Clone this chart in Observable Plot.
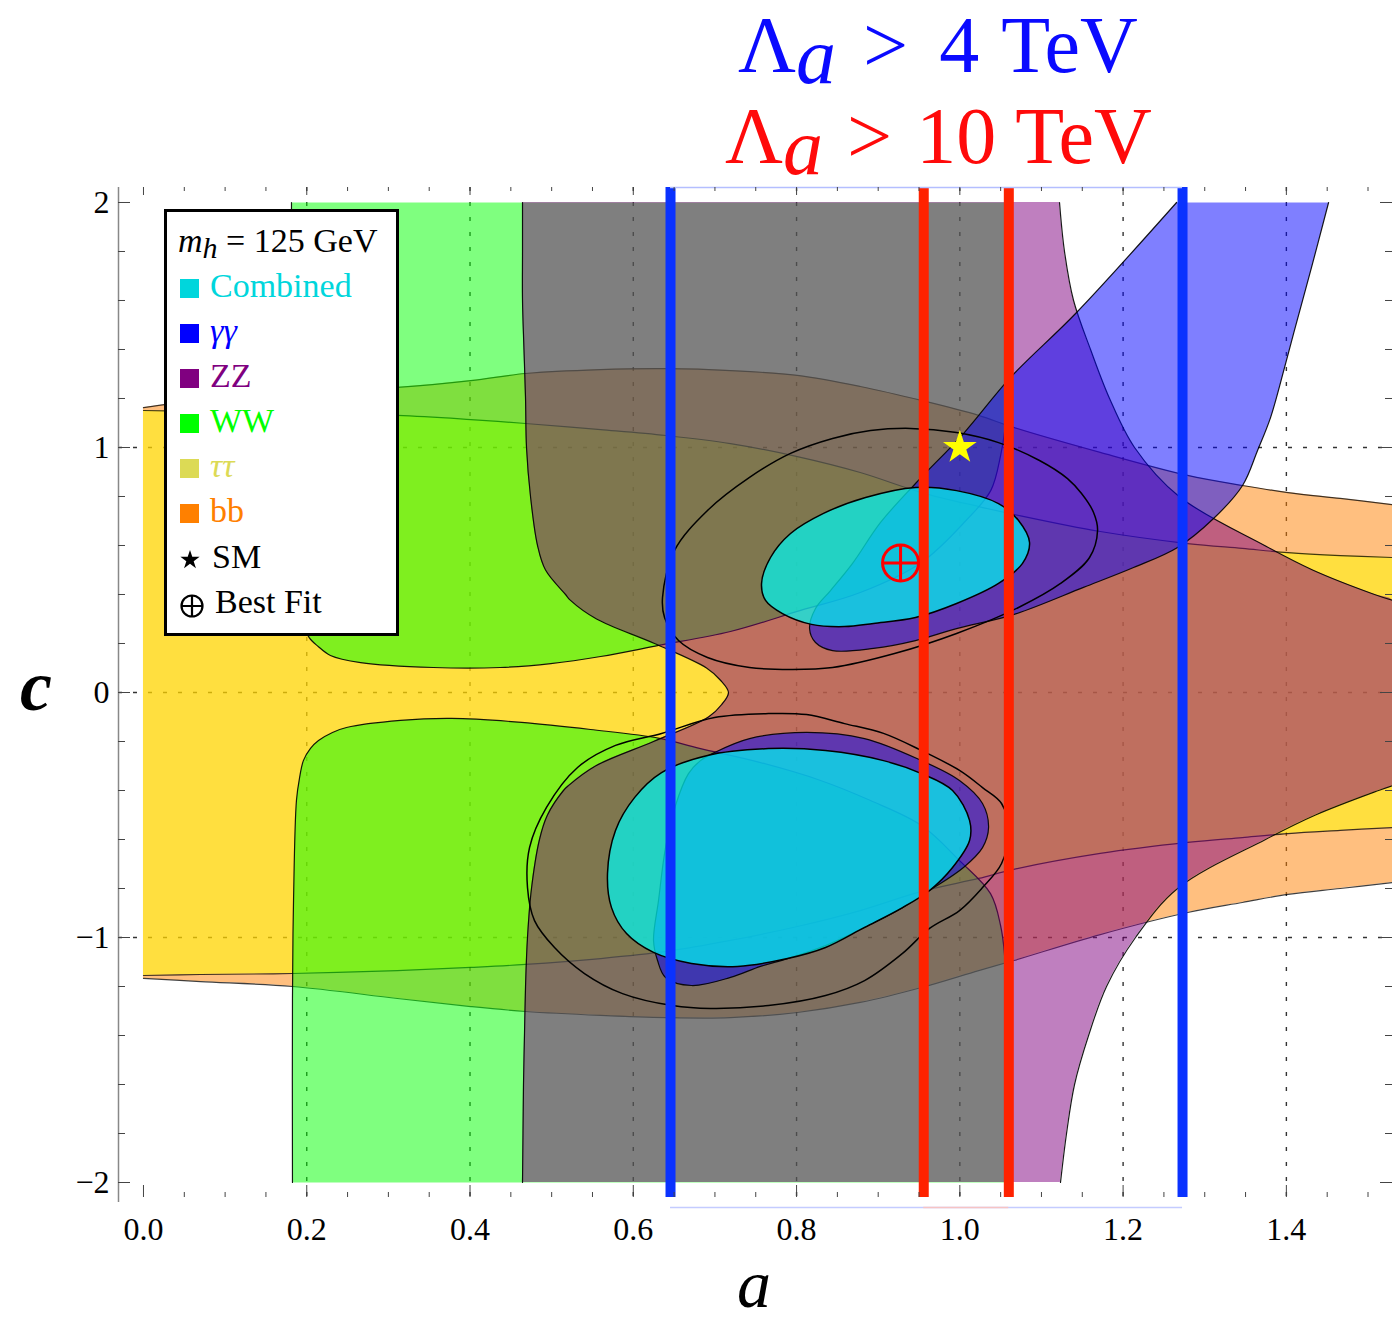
<!DOCTYPE html>
<html>
<head>
<meta charset="utf-8">
<title>Higgs couplings in the (a, c) plane</title>
<script src="https://cdn.jsdelivr.net/npm/d3@7"></script>
<script src="https://cdn.jsdelivr.net/npm/@observablehq/plot@0.6"></script>
<style>
  html, body { margin: 0; padding: 0; background: #fff; }
  #page { position: relative; width: 1394px; height: 1322px; overflow: hidden;
          font-family: "Liberation Serif", "Times New Roman", serif; }
  .ov { position: absolute; white-space: nowrap; line-height: 1; font-family: "Liberation Serif", "Times New Roman", serif; }
  .legend-box { position: absolute; box-sizing: border-box; background: #fff; border: 3.5px solid #000; }
  .sw { position: absolute; width: 19px; height: 19px; }
</style>
</head>
<body>
<div id="page"></div>
<script>
// ---------- axes ----------
const X_DOMAIN = [-0.0306, 1.5300];
const Y_DOMAIN = [-2.0612, 2.0612];
const aLabelTicks = [0, 0.2, 0.4, 0.6, 0.8, 1.0, 1.2, 1.4];
const aMinorTicks = [0.05, 0.1, 0.15, 0.25, 0.3, 0.35, 0.45, 0.5, 0.55, 0.65, 0.7, 0.75,
                     0.85, 0.9, 0.95, 1.05, 1.1, 1.15, 1.25, 1.3, 1.35, 1.45, 1.5];
const cLabelTicks = [-2, -1, 0, 1, 2];
const cMinorTicks = [-1.8, -1.6, -1.4, -1.2, -0.8, -0.6, -0.4, -0.2, 0.2, 0.4, 0.6, 0.8, 1.2, 1.4, 1.6, 1.8];
const gridA = [0.2, 0.4, 0.6, 0.8, 1.0, 1.2, 1.4];
const gridC = [-1, 0, 1];

// ---------- allowed regions ----------
// bb band: [a, upper c, lower c]
const bbBand = [
  [0.000, 1.163, -1.167], [0.070, 1.192, -1.180], [0.1825, 1.224, -1.200], [0.311, 1.245, -1.249],
  [0.401, 1.273, -1.282], [0.468, 1.302, -1.302], [0.560, 1.318, -1.318], [0.640, 1.322, -1.327],
  [0.719, 1.314, -1.327], [0.801, 1.294, -1.306], [0.878, 1.249, -1.265], [0.953, 1.192, -1.204],
  [1.023, 1.131, -1.135], [1.066, 1.082, -1.094], [1.172, 0.980, -0.988], [1.279, 0.886, -0.898],
  [1.346, 0.845, -0.857], [1.402, 0.816, -0.824], [1.466, 0.792, -0.800], [1.530, 0.767, -0.776]
];
// tau tau band: [a, upper c, lower c]
const tautauBand = [
  [0.000, 1.151, -1.155], [0.070, 1.147, -1.151], [0.1825, 1.139, -1.147], [0.311, 1.131, -1.135],
  [0.401, 1.114, -1.122], [0.468, 1.098, -1.110], [0.560, 1.073, -1.086], [0.640, 1.049, -1.057],
  [0.719, 1.016, -1.012], [0.801, 0.963, -0.955], [0.878, 0.898, -0.890], [0.953, 0.816, -0.812],
  [1.023, 0.759, -0.759], [1.066, 0.727, -0.722], [1.172, 0.657, -0.657], [1.279, 0.608, -0.612],
  [1.346, 0.588, -0.592], [1.402, 0.571, -0.576], [1.466, 0.559, -0.563], [1.530, 0.551, -0.551]
];
// WW: two lobes, [a, c]
const wwUpperLobe = [
  [1.057, 2.0], [1.057, 1.6], [1.057, 1.2], [1.055, 1.07], [1.050, 0.968], [1.038, 0.825],
  [1.007, 0.700], [0.953, 0.531], [0.878, 0.408], [0.805, 0.335], [0.719, 0.249], [0.631, 0.192],
  [0.560, 0.147], [0.499, 0.118], [0.437, 0.102], [0.355, 0.102], [0.266, 0.122], [0.229, 0.151],
  [0.214, 0.188], [0.203, 0.224], [0.195, 0.286], [0.187, 0.376], [0.1825, 0.53], [0.1825, 1.0],
  [0.1813, 1.6], [0.1813, 2.0]
];
const wwLowerLobe = [
  [0.1825, -2.0], [0.1825, -1.25], [0.1838, -0.85], [0.1874, -0.44], [0.1911, -0.35], [0.196, -0.277],
  [0.2046, -0.228], [0.2144, -0.196], [0.2315, -0.163], [0.2487, -0.143], [0.3148, -0.114],
  [0.3773, -0.106], [0.4631, -0.122], [0.5476, -0.151], [0.6321, -0.187], [0.6811, -0.228],
  [0.7558, -0.286], [0.8294, -0.359], [0.8906, -0.441], [0.9531, -0.543], [0.9996, -0.686],
  [1.0376, -0.821], [1.0499, -0.951], [1.0548, -1.073], [1.056, -1.25], [1.057, -1.66], [1.057, -2.0]
];
// ZZ band: [c, left a, right a]
const zzBand = [
  [2.0, 0.4643, 1.1221], [1.8, 0.4643, 1.1282], [1.6, 0.4643, 1.1393], [1.4, 0.4661, 1.1601],
  [1.2, 0.4680, 1.1834], [1.0, 0.4692, 1.2140], [0.8, 0.4741, 1.2686], [0.6, 0.4827, 1.3733],
  [0.5, 0.4925, 1.4321], [0.4, 0.5170, 1.5080], [0.376, 0.5231, 1.530], [0.3, 0.5550, 1.530],
  [0.2, 0.6260, 1.530], [0.1, 0.6897, 1.530], [0.05, 0.7068, 1.530], [0.0, 0.7166, 1.530],
  [-0.05, 0.7081, 1.530], [-0.1, 0.6921, 1.530], [-0.2, 0.6248, 1.530], [-0.3, 0.5537, 1.530],
  [-0.38, 0.5206, 1.530], [-0.4, 0.5145, 1.5129], [-0.5, 0.4949, 1.4357], [-0.6, 0.4851, 1.3745],
  [-0.8, 0.4753, 1.2667], [-1.0, 0.4704, 1.2152], [-1.2, 0.4680, 1.1797], [-1.4, 0.4667, 1.1577],
  [-1.6, 0.4655, 1.1405], [-1.8, 0.4649, 1.1307], [-2.0, 0.4643, 1.1233]
];
// gamma gamma: upper band and lower blob, [a, c]
const gagaUpper = [
  [1.2655, 2.0], [1.1430, 1.551], [1.0621, 1.286], [1.0045, 1.057], [0.9457, 0.853], [0.9029, 0.694],
  [0.8686, 0.527], [0.8416, 0.416], [0.8232, 0.343], [0.8159, 0.261], [0.8232, 0.204], [0.8441, 0.171],
  [0.8943, 0.180], [0.9457, 0.212], [0.9960, 0.261], [1.0658, 0.318], [1.1515, 0.429], [1.2128, 0.510],
  [1.2667, 0.592], [1.3108, 0.710], [1.3463, 0.845], [1.3647, 0.988], [1.3806, 1.122], [1.3978, 1.327],
  [1.4088, 1.465], [1.4308, 1.735], [1.4517, 2.0]
];
const gagaLower = [
  [0.6995, -0.245], [0.7424, -0.188], [0.8122, -0.163], [0.8833, -0.188], [0.9531, -0.278],
  [0.9996, -0.359], [1.0278, -0.453], [1.0352, -0.551], [1.0278, -0.633], [1.0045, -0.714],
  [0.9629, -0.808], [0.9298, -0.878], [0.8833, -0.959], [0.8355, -1.033], [0.7889, -1.086],
  [0.7558, -1.118], [0.7191, -1.163], [0.6713, -1.196], [0.6395, -1.163], [0.6297, -1.094],
  [0.6248, -1.012], [0.6309, -0.849], [0.6395, -0.633], [0.6517, -0.461], [0.6676, -0.331],
  [0.6823, -0.278]
];
// combined fit: filled 1-sigma islands and 2-sigma contours, [a, c]
const combinedUpper = [
  [0.7571, 0.445], [0.7681, 0.551], [0.7926, 0.649], [0.8330, 0.731], [0.8845, 0.796], [0.9457, 0.837],
  [0.9960, 0.824], [1.0474, 0.771], [1.0719, 0.702], [1.0854, 0.612], [1.0768, 0.527], [1.0474, 0.445],
  [0.9960, 0.363], [0.9457, 0.306], [0.8943, 0.282], [0.8588, 0.269], [0.8183, 0.278], [0.7828, 0.322],
  [0.7620, 0.376]
];
const combinedLower = [
  [0.5684, -0.739], [0.5782, -0.563], [0.6015, -0.429], [0.6346, -0.327], [0.6909, -0.257],
  [0.7656, -0.229], [0.8355, -0.237], [0.9065, -0.278], [0.9531, -0.331], [0.9911, -0.400],
  [1.0119, -0.522], [1.0119, -0.604], [0.9911, -0.714], [0.9629, -0.808], [0.9298, -0.878],
  [0.8833, -0.959], [0.8355, -1.041], [0.7889, -1.086], [0.7277, -1.118], [0.6713, -1.106],
  [0.6248, -1.061], [0.5917, -0.984], [0.5733, -0.878]
];
const contourUpper = [
  [0.6358, 0.388], [0.6505, 0.580], [0.6909, 0.743], [0.7424, 0.878], [0.7926, 0.976], [0.8441, 1.037],
  [0.8906, 1.069], [0.9396, 1.078], [0.9960, 1.061], [1.0474, 1.020], [1.0976, 0.947], [1.1319, 0.873],
  [1.1491, 0.812], [1.1638, 0.735], [1.1687, 0.661], [1.1589, 0.551], [1.1234, 0.445], [1.0719, 0.347],
  [0.9960, 0.241], [0.9200, 0.159], [0.8441, 0.102], [0.7926, 0.094], [0.7424, 0.102], [0.6909, 0.143],
  [0.6554, 0.212], [0.6383, 0.306]
];
const contourLower = [
  [0.6346, -0.167], [0.6995, -0.102], [0.7656, -0.086], [0.8122, -0.090], [0.8588, -0.127],
  [0.9065, -0.167], [0.9531, -0.237], [0.9996, -0.318], [1.0278, -0.388], [1.0511, -0.453],
  [1.0597, -0.563], [1.0511, -0.698], [1.0278, -0.796], [0.9996, -0.890], [0.9629, -0.963],
  [0.9298, -1.065], [0.8833, -1.176], [0.8355, -1.237], [0.7656, -1.278], [0.6946, -1.290],
  [0.6480, -1.278], [0.5868, -1.229], [0.5402, -1.147], [0.5035, -1.041], [0.4790, -0.931],
  [0.4704, -0.796], [0.4729, -0.633], [0.4937, -0.469], [0.5317, -0.306], [0.5782, -0.216]
];
// reference points and cut-off lines
const smPoint = [[1.0, 1.0]];
const bestFitPoint = [[0.9274, 0.5286]];
const lambda4TeV = [0.6456, 1.2728];
const lambda10TeV = [0.9558, 1.0600];

// ---------- drawing ----------
const W = 1394, H = 1322;
const M = {top: 187, right: 2, bottom: 125, left: 118};
const FW = W - M.left - M.right;
const FH = H - M.top - M.bottom;
const curve = "catmull-rom";
const P = {x: d => d[0], y: d => d[1]};
const edge = {stroke: "#000", strokeWidth: 1.2, strokeOpacity: 0.75, curve, clip: true};
const tickStyle = {stroke: "#444", strokeWidth: 1};

// circle with a plus, used for the best-fit marker
const circlePlus = {
  draw(ctx, size) {
    const r = Math.sqrt(size / Math.PI);
    ctx.moveTo(r, 0); ctx.arc(0, 0, r, 0, 2 * Math.PI);
    ctx.moveTo(-r, 0); ctx.lineTo(r, 0);
    ctx.moveTo(0, -r); ctx.lineTo(0, r);
  }
};

const chart = Plot.plot({
  width: W, height: H,
  marginTop: M.top, marginRight: M.right, marginBottom: M.bottom, marginLeft: M.left,
  x: {domain: X_DOMAIN, label: null},
  y: {domain: Y_DOMAIN, label: null},
  style: {background: "#fff", fontFamily: "'Liberation Serif', 'Times New Roman', serif", fontSize: "32px", color: "#000", overflow: "visible"},
  marks: [
    // dotted grid
    Plot.ruleX(gridA, {stroke: "#000", strokeOpacity: 0.8, strokeWidth: 1.4, strokeDasharray: "4,11"}),
    Plot.ruleY(gridC, {stroke: "#000", strokeOpacity: 0.8, strokeWidth: 1.4, strokeDasharray: "4,11"}),

    // bb
    Plot.areaY(bbBand, {x: d => d[0], y1: d => d[2], y2: d => d[1], fill: "#FF8000", fillOpacity: 0.5, curve, clip: true}),
    Plot.line(bbBand, {x: d => d[0], y: d => d[1], ...edge}),
    Plot.line(bbBand, {x: d => d[0], y: d => d[2], ...edge}),
    // tau tau
    Plot.areaY(tautauBand, {x: d => d[0], y1: d => d[2], y2: d => d[1], fill: "#FFFF00", fillOpacity: 0.5, curve, clip: true}),
    Plot.line(tautauBand, {x: d => d[0], y: d => d[1], ...edge}),
    Plot.line(tautauBand, {x: d => d[0], y: d => d[2], ...edge}),
    // WW
    Plot.line(wwUpperLobe, {...P, fill: "#00FF00", fillOpacity: 0.5, stroke: "none", curve, clip: true}),
    Plot.line(wwLowerLobe, {...P, fill: "#00FF00", fillOpacity: 0.5, stroke: "none", curve, clip: true}),
    Plot.line(wwUpperLobe, {...P, ...edge, strokeOpacity: 0.9}),
    Plot.line(wwLowerLobe, {...P, ...edge, strokeOpacity: 0.9}),
    // ZZ
    Plot.areaX(zzBand, {y: d => d[0], x1: d => d[1], x2: d => d[2], fill: "#800080", fillOpacity: 0.5, curve, clip: true}),
    Plot.line(zzBand, {x: d => d[1], y: d => d[0], ...edge, strokeOpacity: 0.9}),
    Plot.line(zzBand.filter(d => d[0] >= 0.376), {x: d => d[2], y: d => d[0], ...edge, strokeOpacity: 0.9}),
    Plot.line(zzBand.filter(d => d[0] <= -0.38), {x: d => d[2], y: d => d[0], ...edge, strokeOpacity: 0.9}),
    // gamma gamma
    Plot.line(gagaUpper, {...P, fill: "#0000FF", fillOpacity: 0.5, stroke: "none", curve, clip: true}),
    Plot.line(gagaUpper, {...P, ...edge, strokeOpacity: 0.9}),
    Plot.line(gagaLower, {...P, fill: "#0000FF", fillOpacity: 0.5, stroke: "#000", strokeWidth: 1.2, strokeOpacity: 0.9, curve: "catmull-rom-closed", clip: true}),
    // combined 2-sigma contours
    Plot.line(contourUpper, {...P, stroke: "#000", strokeWidth: 1.5, curve: "catmull-rom-closed", clip: true}),
    Plot.line(contourLower, {...P, stroke: "#000", strokeWidth: 1.5, curve: "catmull-rom-closed", clip: true}),
    // combined 1-sigma islands
    Plot.line(combinedUpper, {...P, fill: "#00F5F0", fillOpacity: 0.72, stroke: "#000", strokeWidth: 1.5, curve: "catmull-rom-closed", clip: true}),
    Plot.line(combinedLower, {...P, fill: "#00F5F0", fillOpacity: 0.72, stroke: "#000", strokeWidth: 1.5, curve: "catmull-rom-closed", clip: true}),

    // cut-off scale lines
    Plot.ruleX(lambda4TeV, {stroke: "#0A32FF", strokeWidth: 10}),
    Plot.ruleX(lambda10TeV, {stroke: "#FF2200", strokeWidth: 10}),
    Plot.ruleY([Y_DOMAIN[1]], {x1: lambda4TeV[0], x2: lambda4TeV[1], stroke: "#b4beff", strokeWidth: 1.5}),
    Plot.ruleY([Y_DOMAIN[0]], {x1: lambda4TeV[0], x2: lambda4TeV[1], stroke: "#c4ccff", strokeWidth: 1.5, dy: 10}),
    Plot.ruleY([Y_DOMAIN[0]], {x1: lambda10TeV[0], x2: lambda10TeV[1], stroke: "#f6c4c4", strokeWidth: 1.5, dy: 10}),

    // SM point and best fit
    Plot.dot(smPoint, {...P, symbol: "star", r: 10.6, fill: "#FFFF00", stroke: "none"}),
    Plot.dot(bestFitPoint, {...P, symbol: circlePlus, r: 18, fill: "none", stroke: "#FF0000", strokeWidth: 3}),

    // frame line and inward ticks
    Plot.ruleX([X_DOMAIN[0]], {stroke: "#888", strokeWidth: 1.5, insetBottom: -5}),
    Plot.tickX(aLabelTicks, {x: d => d, insetBottom: FH - 8, ...tickStyle}),
    Plot.tickX(aMinorTicks, {x: d => d, insetBottom: FH - 4, ...tickStyle}),
    Plot.tickX(aLabelTicks, {x: d => d, insetTop: FH - 12, ...tickStyle}),
    Plot.tickX(aMinorTicks, {x: d => d, insetTop: FH - 5, ...tickStyle}),
    Plot.tickY(cLabelTicks, {y: d => d, insetRight: FW - 12, ...tickStyle}),
    Plot.tickY(cMinorTicks, {y: d => d, insetRight: FW - 7, ...tickStyle}),
    Plot.tickY(cLabelTicks, {y: d => d, insetLeft: FW - 12, ...tickStyle}),
    Plot.tickY(cMinorTicks, {y: d => d, insetLeft: FW - 7, ...tickStyle}),

    // tick labels
    Plot.axisX({ticks: aLabelTicks, anchor: "bottom", tickSize: 0, tickPadding: 20, tickFormat: d3.format(".1f"), label: null}),
    Plot.axisY({ticks: cLabelTicks, anchor: "left", tickSize: 0, tickPadding: 9, tickFormat: d3.format("d"), label: null})
  ]
});

const page = document.getElementById("page");
page.appendChild(chart);

// ---------- text overlays ----------
const BLUE = "#0A0AFF", RED = "#FF0A0A";
function put(html, left, baseline, size, style = {}) {
  const el = document.createElement("div");
  el.className = "ov";
  el.innerHTML = html;
  el.style.left = left + "px";
  el.style.top = (baseline - 0.8375 * size) + "px";
  el.style.fontSize = size + "px";
  Object.assign(el.style, style);
  page.appendChild(el);
  return el;
}
function heading(gaps, number) {
  return `Λ<span style="font-style:italic;position:relative;top:11px;margin-left:${gaps[0]}px">a</span>` +
         `<span style="margin-left:${gaps[1]}px">&gt;</span>` +
         `<span style="margin-left:${gaps[2]}px">${number}</span>` +
         `<span style="margin-left:${gaps[3]}px">TeV</span>`;
}

// cut-off headings
put(heading([0, 27, 31, 22], "4"), 738, 71.5, 80, {color: BLUE});
put(heading([0, 24, 24, 19], "10"), 725, 163, 80, {color: RED});

// axis titles
put('<span style="font-style:italic">a</span>', 737, 1307, 68);
put('<span style="font-style:italic;font-weight:bold">c</span>', 20, 710, 72);

// legend
const legendEntries = [
  {label: "Combined", color: "#00D6DC", italic: false},
  {label: "γγ", color: "#0000FF", italic: true},
  {label: "ZZ", color: "#800080", italic: false},
  {label: "WW", color: "#00FF00", italic: false},
  {label: "ττ", color: "#DCDA55", italic: true},
  {label: "bb", color: "#FF8000", italic: false}
];
const box = document.createElement("div");
box.className = "legend-box";
Object.assign(box.style, {left: "163.5px", top: "209px", width: "235.5px", height: "427px"});
page.appendChild(box);

put('<span style="font-style:italic">m</span><span style="position:relative;top:6px;font-size:30px;font-style:italic">h</span> = 125 GeV', 178, 252, 34);
legendEntries.forEach((e, i) => {
  const baseline = 297 + i * 45;
  const sw = document.createElement("div");
  sw.className = "sw";
  Object.assign(sw.style, {left: "180px", top: (baseline - 18) + "px", background: e.color});
  page.appendChild(sw);
  put(e.italic ? `<span style="font-style:italic">${e.label}</span>` : e.label, 210, baseline, 34, {color: e.color});
});
const starPath = d3.symbol(d3.symbolStar, 115)();
const starIcon = document.createElement("div");
starIcon.className = "ov";
starIcon.innerHTML = `<svg width="24" height="24" viewBox="-12 -12 24 24" style="display:block"><path d="${starPath}" fill="#000"/></svg>`;
Object.assign(starIcon.style, {left: "178px", top: "548px"});
page.appendChild(starIcon);
put("SM", 212, 568, 34);
const fitIcon = document.createElement("div");
fitIcon.className = "ov";
fitIcon.innerHTML = '<svg width="26" height="26" viewBox="-13 -13 26 26" style="display:block"><circle r="10.5" fill="none" stroke="#000" stroke-width="2.2"/><path d="M-10.5,0H10.5M0,-10.5V10.5" stroke="#000" stroke-width="2.2"/></svg>';
Object.assign(fitIcon.style, {left: "178.5px", top: "593px"});
page.appendChild(fitIcon);
put("Best Fit", 215, 613, 34);
</script>
</body>
</html>
